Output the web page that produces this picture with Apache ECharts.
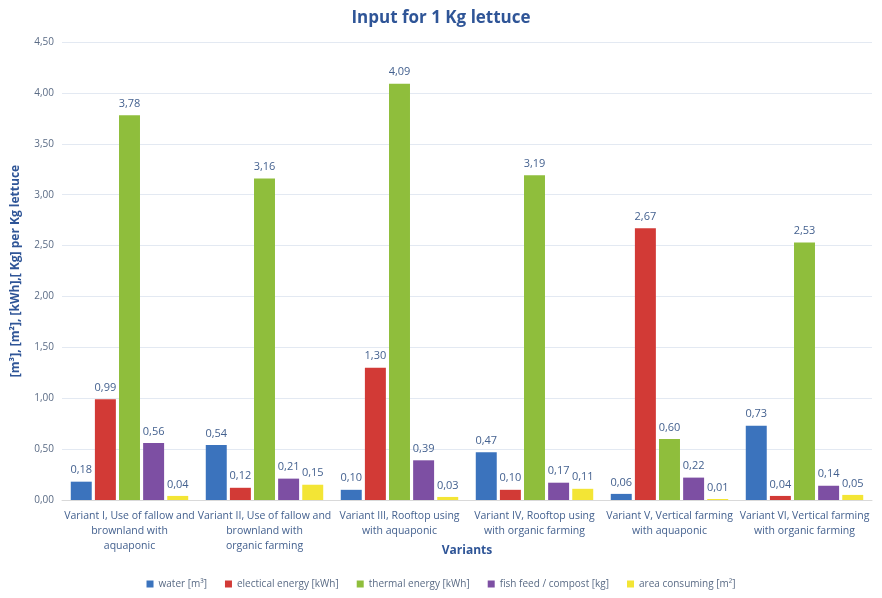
<!DOCTYPE html>
<html>
<head>
    <meta charset="utf-8">
    <title>Input for 1 Kg lettuce</title>
    <script src="https://cdn.jsdelivr.net/npm/echarts@6/dist/echarts.min.js"></script>
    <style>
        html, body { margin: 0; padding: 0; background: #fff; }
        #chart { width: 882px; height: 598px; }
    </style>
</head>
<body>
<div id="chart"></div>
<script>
    var variants = [
        'Variant I, Use of fallow and\nbrownland with\naquaponic',
        'Variant II, Use of fallow and\nbrownland with\norganic farming',
        'Variant III, Rooftop using\nwith aquaponic',
        'Variant IV, Rooftop using\nwith organic farming',
        'Variant V, Vertical farming\nwith aquaponic',
        'Variant VI, Vertical farming\nwith organic farming'
    ];
    var water = [0.18, 0.54, 0.10, 0.47, 0.06, 0.73];
    var electrical = [0.99, 0.12, 1.30, 0.10, 2.67, 0.04];
    var thermal = [3.78, 3.16, 4.09, 3.19, 0.60, 2.53];
    var fishFeed = [0.56, 0.21, 0.39, 0.17, 0.22, 0.14];
    var area = [0.04, 0.15, 0.03, 0.11, 0.01, 0.05];

    var seriesNames = ['water [m³]', 'electical energy [kWh]', 'thermal energy [kWh]', 'fish feed / compost [kg]', 'area consuming [m²]'];
    var seriesData = [water, electrical, thermal, fishFeed, area];
    var colors = ['#3b73bd', '#d23a36', '#8fbe3c', '#7d4fa3', '#f3e535'];

    function fmt(v) { return v.toFixed(2).replace('.', ','); }

    var chart = echarts.init(document.getElementById('chart'));
    var series = seriesNames.map(function (name, i) {
        return {
            name: name,
            type: 'bar',
            data: seriesData[i],
            barGap: '15%',
            barCategoryGap: '13%',
            itemStyle: { color: colors[i] },
            label: {
                show: true,
                position: 'top',
                distance: 6,
                color: '#44618f',
                fontSize: 11,
                fontFamily: 'Open Sans',
                formatter: function (p) { return fmt(p.value); }
            }
        };
    });

    chart.setOption({
        color: colors,
        textStyle: { fontFamily: 'Open Sans' },
        title: {
            text: 'Input for 1 Kg lettuce',
            left: 'center',
            top: 5,
            textStyle: { color: '#2f5597', fontSize: 17, fontWeight: 'bold' }
        },
        legend: {
            bottom: 4,
            left: 'center',
            itemWidth: 7,
            itemHeight: 7,
            itemGap: 18,
            icon: 'rect',
            textStyle: { color: '#5a6b85', fontSize: 10 }
        },
        grid: { left: 62, right: 10, top: 42, bottom: 98 },
        xAxis: {
            type: 'category',
            data: variants,
            name: 'Variants',
            nameLocation: 'middle',
            nameGap: 45,
            nameMoveOverlap: false,
            nameTextStyle: { color: '#2f5597', fontWeight: 'bold', fontSize: 12 },
            axisTick: { show: false },
            axisLine: { lineStyle: { color: '#d9d9d9' } },
            axisLabel: { color: '#44618f', fontSize: 10.5, lineHeight: 15, margin: 9, interval: 0 }
        },
        yAxis: {
            type: 'value',
            min: 0,
            max: 4.5,
            interval: 0.5,
            name: '[m³], [m²], [kWh],[ Kg] per Kg lettuce',
            nameLocation: 'middle',
            nameGap: 40,
            nameTextStyle: { color: '#2f5597', fontWeight: 'bold', fontSize: 12 },
            axisLabel: { color: '#5a6b85', fontSize: 10, formatter: fmt },
            splitLine: { lineStyle: { color: '#e3e9f2' } }
        },
        series: series
    });
</script>
</body>
</html>
